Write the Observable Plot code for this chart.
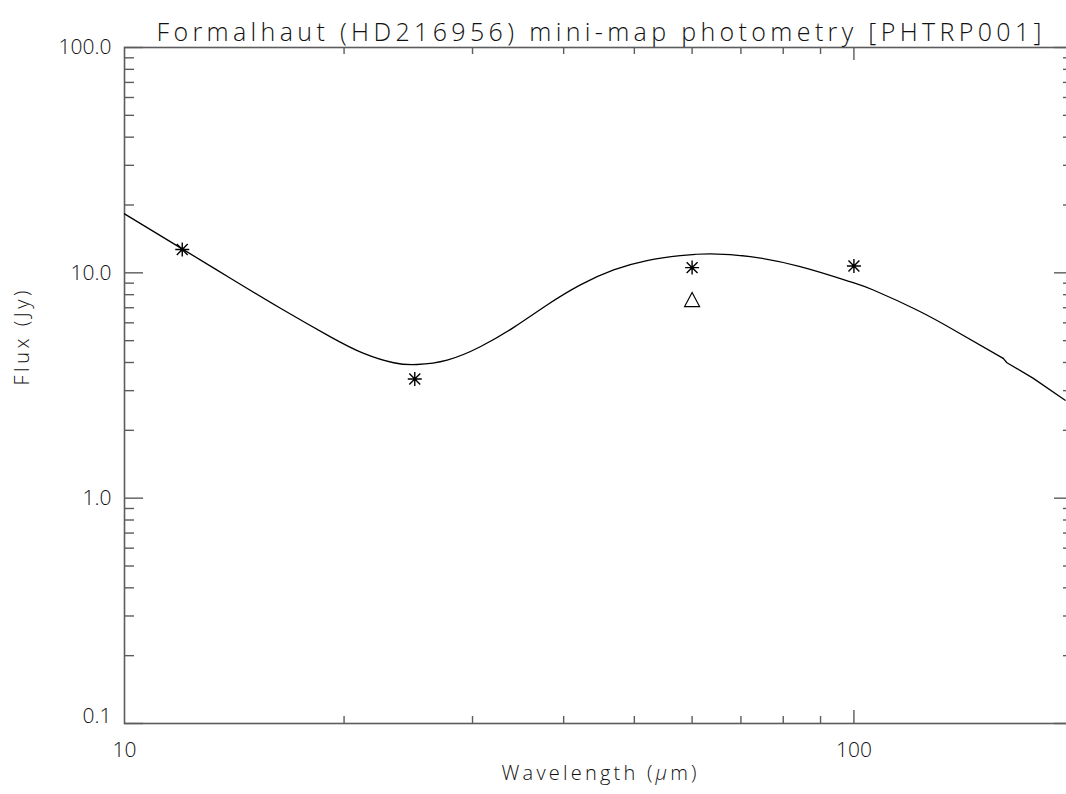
<!DOCTYPE html>
<html>
<head>
<meta charset="utf-8">
<script src="https://cdn.jsdelivr.net/npm/d3@7"></script>
<script src="https://cdn.jsdelivr.net/npm/@observablehq/plot@0.6"></script>
<style>
  html, body { margin: 0; padding: 0; background: #fff; overflow: hidden; }
  #chart { width: 1066px; height: 794px; overflow: hidden; }
  #chart svg { max-width: none !important; width: 1074px !important; height: 794px !important; }
</style>
</head>
<body>
<div id="chart"></div>
<script>
// Model SED curve (wavelength µm, flux Jy)
const modelWave = [10.0, 12.06, 13.97, 16.36, 19.16, 21.28, 23.39, 25.18, 27.69, 30.74, 34.17, 37.96, 42.17, 46.84, 52.03, 57.81, 63.6, 72.1, 84.4, 98.8, 106.3, 122, 138.4, 160.2];
const modelFlux = [18.27, 12.64, 9.46, 6.96, 5.20, 4.39, 3.99, 3.92, 4.10, 4.70, 5.73, 7.20, 8.84, 10.30, 11.33, 11.92, 12.13, 11.80, 10.66, 9.14, 8.39, 6.84, 5.48, 4.17];
// small step in the model near 160 µm, then the tail
const tailWave = [160.2, 162.1, 176.2, 194.8];
const tailFlux = [4.17, 3.99, 3.40, 2.72];

// Measured photometry (asterisks)
const obsWave = [12, 25, 60, 100];
const obsFlux = [12.7, 3.38, 10.55, 10.73];

// Second measurement (triangle)
const triWave = [60];
const triFlux = [7.61];

// Tick values
const xMajorTicks = [100];
const xMinorTicks = [20, 30, 40, 50, 60, 70, 80, 90];
const xTickLabels = [10, 100];
const yMajorTicks = [0.1, 1, 10, 100];
const yMinorTicks = [0.2,0.3,0.4,0.5,0.6,0.7,0.8,0.9, 2,3,4,5,6,7,8,9, 20,30,40,50,60,70,80,90];
const yTickLabels = [1, 10, 100];
const yTickLabelsLow = [0.1];

const titleText = "Formalhaut (HD216956) mini-map photometry [PHTRP001]";
const xLabel = "Wavelength (μm)";
const yLabel = "Flux (Jy)";

const model = modelWave.map((w, i) => ({w, f: modelFlux[i]}));
const tail = tailWave.map((w, i) => ({w, f: tailFlux[i]}));
const obs = obsWave.map((w, i) => ({w, f: obsFlux[i]}));
const tri = triWave.map((w, i) => ({w, f: triFlux[i]}));

const W = 1074, H = 794;
const mTop = 47, mBottom = 71, mLeft = 124, mRight = 1;
const fw = W - mLeft - mRight, fh = H - mTop - mBottom;
const axisColor = "#5c5c5c";
const font = "'Open Sans', 'DejaVu Sans', sans-serif";

const asterisk = {
  draw(ctx, size) {
    const r = Math.sqrt(size / Math.PI);
    const d = r * 0.78;
    ctx.moveTo(-r, 0); ctx.lineTo(r, 0);
    ctx.moveTo(0, -r); ctx.lineTo(0, r);
    ctx.moveTo(-d, -d); ctx.lineTo(d, d);
    ctx.moveTo(-d, d); ctx.lineTo(d, -d);
  }
};
const triangle = {
  draw(ctx, size) {
    const r = Math.sqrt(size / Math.PI);
    ctx.moveTo(0, -r);
    ctx.lineTo(r * 1.07, r);
    ctx.lineTo(-r * 1.07, r);
    ctx.closePath();
  }
};

const chart = Plot.plot({
  width: W,
  height: H,
  marginTop: mTop,
  marginBottom: mBottom,
  marginLeft: mLeft,
  marginRight: mRight,
  style: {fontFamily: font, fontSize: "21px", fontWeight: 300, color: "#111", background: "#fff", overflow: "visible", maxWidth: "none"},
  x: {type: "log", domain: [10, 200], axis: null},
  y: {type: "log", domain: [0.1, 100], axis: null},
  marks: [
    // inward ticks: bottom & top
    Plot.ruleX(xMinorTicks, {x: d => d, insetTop: fh - 7, stroke: axisColor, strokeWidth: 1.4}),
    Plot.ruleX(xMajorTicks, {x: d => d, insetTop: fh - 13, stroke: axisColor, strokeWidth: 1.4}),
    Plot.ruleX(xMinorTicks, {x: d => d, insetBottom: fh - 7, stroke: axisColor, strokeWidth: 1.4}),
    Plot.ruleX(xMajorTicks, {x: d => d, insetBottom: fh - 13, stroke: axisColor, strokeWidth: 1.4}),
    // inward ticks: left & right
    Plot.ruleY(yMinorTicks, {y: d => d, insetRight: fw - 10, stroke: axisColor, strokeWidth: 1.4}),
    Plot.ruleY(yMajorTicks, {y: d => d, insetRight: fw - 19, stroke: axisColor, strokeWidth: 1.4}),
    Plot.ruleY(yMinorTicks, {y: d => d, insetLeft: fw - 10, stroke: axisColor, strokeWidth: 1.4}),
    Plot.ruleY(yMajorTicks, {y: d => d, insetLeft: fw - 19, stroke: axisColor, strokeWidth: 1.4}),
    Plot.frame({stroke: axisColor, strokeWidth: 1.6}),
    // tick labels
    Plot.axisX({ticks: xTickLabels, label: null, tickSize: 0, tickPadding: 19, tickFormat: d => String(d), fill: "#111", fontSize: 21}),
    Plot.axisY({ticks: yTickLabels, label: null, tickSize: 0, tickPadding: 13, tickFormat: d => d.toFixed(1), fill: "#111", fontSize: 21}),
    Plot.axisY({ticks: yTickLabelsLow, label: null, tickSize: 0, tickPadding: 13, dy: -7, tickFormat: d => d.toFixed(1), fill: "#111", fontSize: 21}),
    // model curve
    Plot.line(model, {x: "w", y: "f", curve: "natural", stroke: "#000", strokeWidth: 1.3}),
    Plot.line(tail, {x: "w", y: "f", curve: "linear", stroke: "#000", strokeWidth: 1.3}),
    // photometry
    Plot.dot(obs, {x: "w", y: "f", symbol: asterisk, r: 7, stroke: "#000", fill: "none", strokeWidth: 1.4}),
    Plot.dot(tri, {x: "w", y: "f", symbol: triangle, r: 7, stroke: "#000", fill: "none", strokeWidth: 1.2}),
    // title and axis labels
    Plot.text([titleText], {frameAnchor: "top", dy: -24, fontSize: 25, fill: "#111", text: d => d}),
    Plot.text([xLabel], {frameAnchor: "bottom", dy: 56, fontSize: 20, fill: "#111", text: d => d}),
    Plot.text([yLabel], {frameAnchor: "left", dx: -102, rotate: -90, fontSize: 20, fill: "#111", text: d => d})
  ]
});

const ns = "http://www.w3.org/2000/svg";
chart.querySelectorAll("text").forEach(t => {
  const s = t.textContent;
  if (s === xLabel) {
    t.textContent = "";
    const a = document.createElementNS(ns, "tspan"); a.textContent = "Wavelength (";
    const b = document.createElementNS(ns, "tspan"); b.textContent = "μ"; b.setAttribute("font-style", "italic");
    const c = document.createElementNS(ns, "tspan"); c.textContent = "m)";
    t.append(a, b, c);
    t.setAttribute("textLength", 195);
    t.setAttribute("lengthAdjust", "spacing");
  } else if (s === titleText) {
    t.setAttribute("textLength", 885);
    t.setAttribute("lengthAdjust", "spacing");
  } else if (s === yLabel) {
    t.setAttribute("textLength", 95);
    t.setAttribute("lengthAdjust", "spacing");
  }
});
chart.style.maxWidth = "none";

document.getElementById("chart").appendChild(chart);
</script>
</body>
</html>
